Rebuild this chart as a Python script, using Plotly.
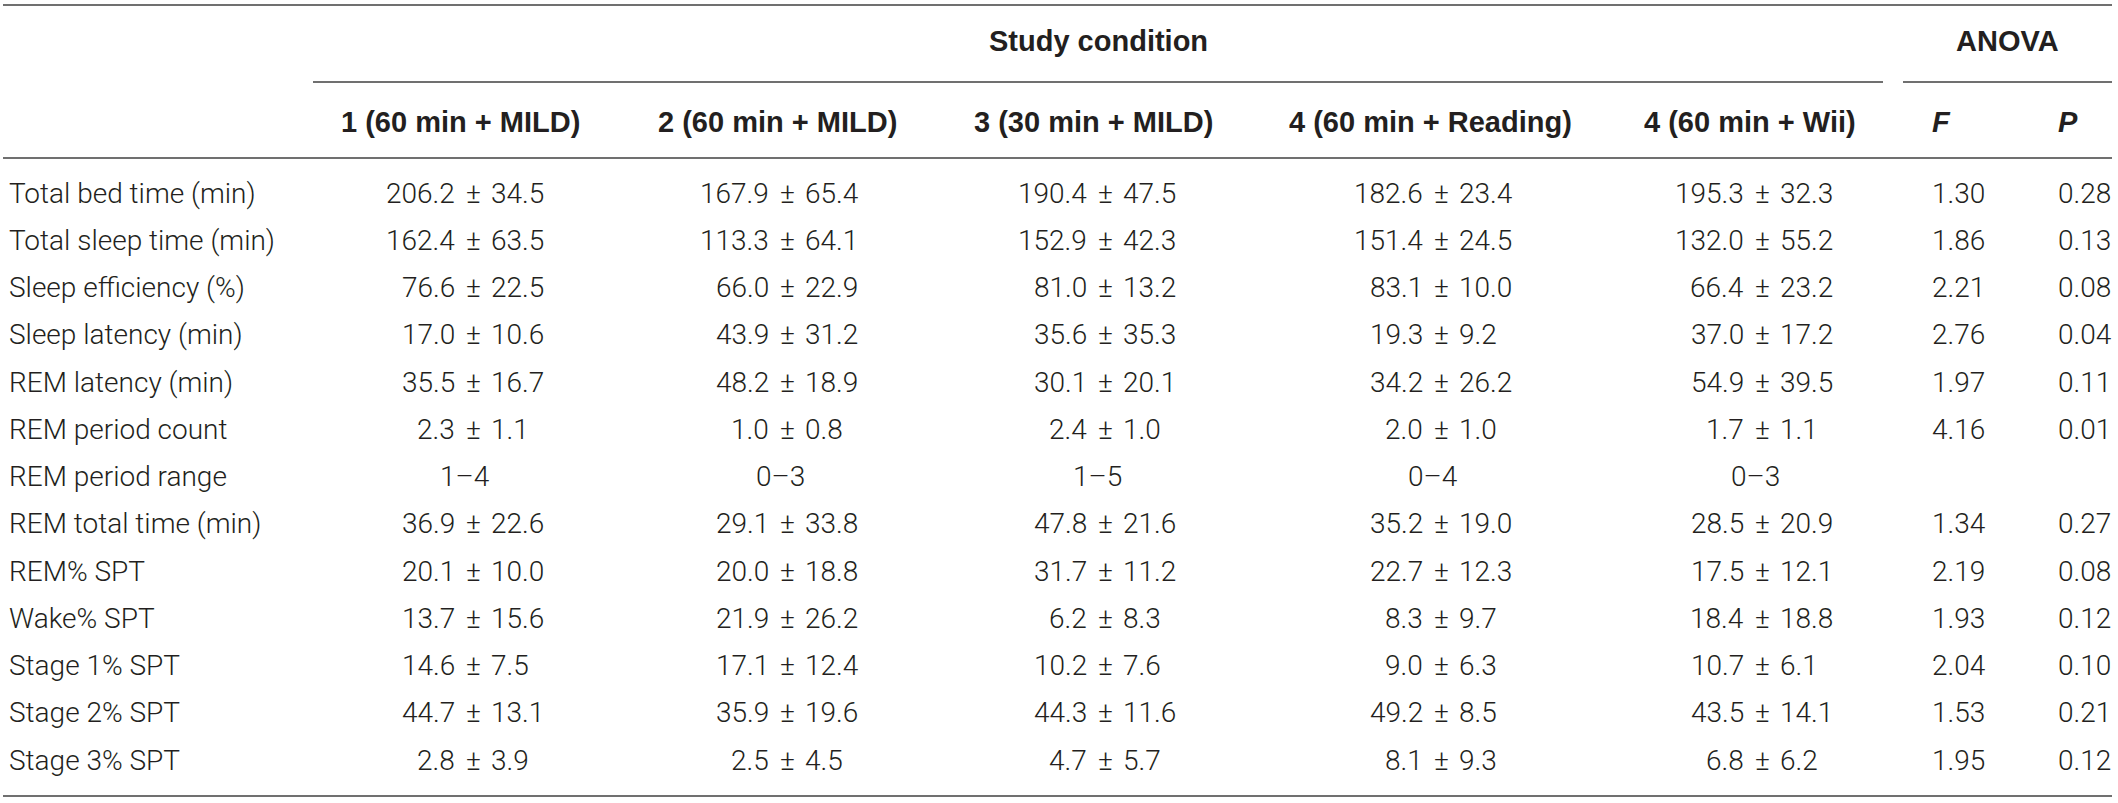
import plotly.graph_objects as go

# ---------------- data ----------------
row_labels = [
    "Total bed time (min)", "Total sleep time (min)", "Sleep efficiency (%)",
    "Sleep latency (min)", "REM latency (min)", "REM period count",
    "REM period range", "REM total time (min)", "REM% SPT", "Wake% SPT",
    "Stage 1% SPT", "Stage 2% SPT", "Stage 3% SPT",
]
group_header = "Study condition"
anova_header = "ANOVA"
condition_labels = [
    "1 (60 min + MILD)", "2 (60 min + MILD)", "3 (30 min + MILD)",
    "4 (60 min + Reading)", "4 (60 min + Wii)",
]
stat_labels = ["F", "P"]
RANGE_ROW = 6  # "REM period range" row holds ranges instead of mean ± SD

cond1_mean = [206.2, 162.4, 76.6, 17.0, 35.5, 2.3, None, 36.9, 20.1, 13.7, 14.6, 44.7, 2.8]
cond1_sd   = [34.5, 63.5, 22.5, 10.6, 16.7, 1.1, None, 22.6, 10.0, 15.6, 7.5, 13.1, 3.9]
cond2_mean = [167.9, 113.3, 66.0, 43.9, 48.2, 1.0, None, 29.1, 20.0, 21.9, 17.1, 35.9, 2.5]
cond2_sd   = [65.4, 64.1, 22.9, 31.2, 18.9, 0.8, None, 33.8, 18.8, 26.2, 12.4, 19.6, 4.5]
cond3_mean = [190.4, 152.9, 81.0, 35.6, 30.1, 2.4, None, 47.8, 31.7, 6.2, 10.2, 44.3, 4.7]
cond3_sd   = [47.5, 42.3, 13.2, 35.3, 20.1, 1.0, None, 21.6, 11.2, 8.3, 7.6, 11.6, 5.7]
cond4_mean = [182.6, 151.4, 83.1, 19.3, 34.2, 2.0, None, 35.2, 22.7, 8.3, 9.0, 49.2, 8.1]
cond4_sd   = [23.4, 24.5, 10.0, 9.2, 26.2, 1.0, None, 19.0, 12.3, 9.7, 6.3, 8.5, 9.3]
cond5_mean = [195.3, 132.0, 66.4, 37.0, 54.9, 1.7, None, 28.5, 17.5, 18.4, 10.7, 43.5, 6.8]
cond5_sd   = [32.3, 55.2, 23.2, 17.2, 39.5, 1.1, None, 20.9, 12.1, 18.8, 6.1, 14.1, 6.2]
rem_period_range = ["1–4", "0–3", "1–5", "0–4", "0–3"]
anova_F = [1.30, 1.86, 2.21, 2.76, 1.97, 4.16, None, 1.34, 2.19, 1.93, 2.04, 1.53, 1.95]
anova_P = [0.28, 0.13, 0.08, 0.04, 0.11, 0.01, None, 0.27, 0.08, 0.12, 0.10, 0.21, 0.12]

means = [cond1_mean, cond2_mean, cond3_mean, cond4_mean, cond5_mean]
sds = [cond1_sd, cond2_sd, cond3_sd, cond4_sd, cond5_sd]

# ---------------- layout constants ----------------
W, H = 2118, 803
BODY_FONT = "Roboto, 'Liberation Sans', Arial, sans-serif"
HEAD_FONT = "'Liberation Sans', Arial, Helvetica, sans-serif"
BODY_SIZE = 28
HEAD_SIZE = 29
TXT = "#231f20"
RULE = "#707070"

label_x = 7
col_center = [465, 780, 1097, 1433, 1755]
col_pm = [473, 787, 1105, 1441, 1762]
head_center = [460, 777, 1093, 1430, 1750]
pm_gap = 16
f_left, p_left = 1930, 2056
group_x, anova_x = 1098, 2007

y_top_rule, y_group, y_sub_rule, y_head, y_head_rule = 5, 41, 82, 122, 158
y_row0, row_step = 193, 47.25
y_bottom_rule = 796

fig = go.Figure()
fig.add_trace(go.Scatter(x=[0, W], y=[0, H], mode="markers",
                         marker=dict(opacity=0), hoverinfo="skip", showlegend=False))

ann = []
def add(x, y, text, anchor="center", head=False, italic=False):
    ann.append(dict(
        x=x, y=y, xref="x", yref="y", text=text, showarrow=False,
        xanchor=anchor, yanchor="middle",
        font=dict(family=HEAD_FONT if head else BODY_FONT,
                  size=HEAD_SIZE if head else BODY_SIZE, color=TXT,
                  weight=700 if head else 300,
                  style="italic" if italic else "normal"),
    ))

add(group_x, y_group, group_header, head=True)
add(anova_x, y_group, anova_header, head=True)
for i, lab in enumerate(condition_labels):
    add(head_center[i], y_head, lab, head=True)
add(f_left, y_head, stat_labels[0], anchor="left", head=True, italic=True)
add(p_left, y_head, stat_labels[1], anchor="left", head=True, italic=True)

for r, lab in enumerate(row_labels):
    y = y_row0 + r * row_step
    add(label_x, y, lab, anchor="left")
    for c in range(5):
        if r == RANGE_ROW:
            add(col_center[c], y, rem_period_range[c])
        else:
            add(col_pm[c] - pm_gap, y, f"{means[c][r]:.1f}", anchor="right")
            add(col_pm[c], y, "±")
            add(col_pm[c] + pm_gap, y, f"{sds[c][r]:.1f}", anchor="left")
    if anova_F[r] is not None:
        add(f_left, y, f"{anova_F[r]:.2f}", anchor="left")
        add(p_left, y, f"{anova_P[r]:.2f}", anchor="left")

rules = [
    (3, W - 6, y_top_rule),
    (313, 1883, y_sub_rule),
    (1903, W - 6, y_sub_rule),
    (3, W - 6, y_head_rule),
    (3, W - 6, y_bottom_rule),
]
shapes = [dict(type="line", xref="x", yref="y", x0=a, x1=b, y0=y, y1=y,
               line=dict(color=RULE, width=2)) for a, b, y in rules]

fig.update_layout(
    width=W, height=H, margin=dict(l=0, r=0, t=0, b=0),
    paper_bgcolor="white", plot_bgcolor="white",
    xaxis=dict(range=[0, W], visible=False, fixedrange=True),
    yaxis=dict(range=[H, 0], visible=False, fixedrange=True),
    annotations=ann, shapes=shapes, showlegend=False,
)
fig.write_html(
    "out.html",
    config={"displayModeBar": False},
    post_script="document.body.style.margin='0px';document.body.style.overflow='hidden';",
)
